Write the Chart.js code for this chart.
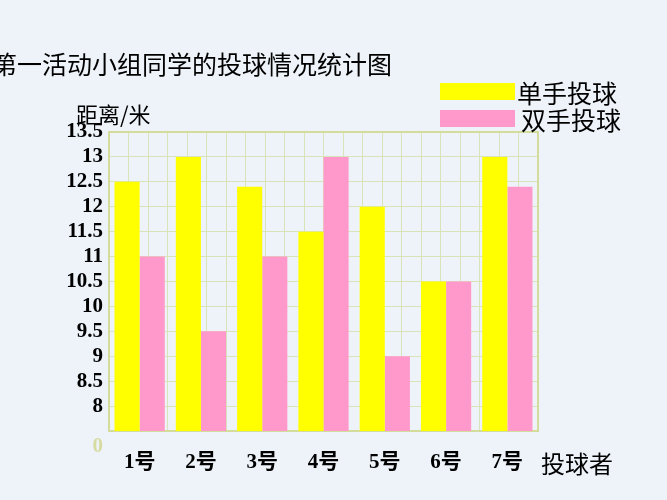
<!DOCTYPE html>
<html>
<head>
<meta charset="utf-8">
<script src="https://cdn.jsdelivr.net/npm/chart.js@4"></script>
<style>
  body { margin: 0; background: #eef3fa; }
  #wrap { position: relative; width: 667px; height: 500px; overflow: hidden; }
  canvas { position: absolute; left: 0; top: 0; }
  .t { position: absolute; font-family: "Noto Sans CJK SC", sans-serif; color: #000; white-space: nowrap; }
  .box { position: absolute; width: 75px; height: 17px; }
</style>
</head>
<body>
<div id="wrap">
  <canvas id="c" width="667" height="500"></canvas>
  <div class="t" style="left:-8px; top:45px; font-size:25px;">第一活动小组同学的投球情况统计图</div>
  <div class="t" style="left:76px; top:97px; font-size:22px;">距离/米</div>
  <div class="box" style="left:440px; top:83px; background:#ffff00;"></div>
  <div class="t" style="left:517px; top:74px; font-size:25px;">单手投球</div>
  <div class="box" style="left:440px; top:110px; background:#ff99cc;"></div>
  <div class="t" style="left:521px; top:101px; font-size:25px;">双手投球</div>
  <div class="t" style="left:541px; top:445px; font-size:24px;">投球者</div>
</div>
<script>
// 数据
const players = ['1号', '2号', '3号', '4号', '5号', '6号', '7号'];
const oneHand = [12.5, 13, 12.4, 11.5, 12, 10.5, 13];
const twoHands = [11, 9.5, 11, 13, 9, 10.5, 12.4];
const yTicks = [7.5, 8, 8.5, 9, 9.5, 10, 10.5, 11, 11.5, 12, 12.5, 13, 13.5];

const labelFont = 'bold 21px "Liberation Serif", "Noto Sans CJK SC"';
const gridColor = '#d9e3b8';

// 刻度文字自己画（用坐标轴换算位置）
const tickLabels = {
    id: 'tickLabels',
    afterDraw(chart) {
        const ctx = chart.ctx;
        const y = chart.scales.y, x = chart.scales.x;
        ctx.save();
        ctx.font = labelFont;
        ctx.textAlign = 'right';
        ctx.textBaseline = 'middle';
        yTicks.forEach(v => {
            ctx.fillStyle = v === 7.5 ? '#d6dca0' : '#000';
            ctx.fillText(v === 7.5 ? '0' : String(v), chart.chartArea.left - 6, y.getPixelForValue(v) + (v === 7.5 ? 16 : 0));
        });
        ctx.textAlign = 'center';
        ctx.fillStyle = '#000';
        players.forEach((p, i) => {
            ctx.fillText(p, x.getPixelForValue(i), chart.chartArea.bottom + 32);
        });
        ctx.restore();
    }
};

new Chart(document.getElementById('c'), {
    type: 'bar',
    data: {
        labels: players,
        datasets: [
            { label: '单手投球', data: oneHand, backgroundColor: '#ffff00' },
            { label: '双手投球', data: twoHands, backgroundColor: '#ff99cc' }
        ]
    },
    plugins: [tickLabels],
    options: {
        responsive: false,
        animation: false,
        layout: { padding: { left: 109, right: 129, top: 132, bottom: 69 } },
        plugins: { legend: { display: false }, tooltip: { enabled: false } },
        datasets: { bar: { categoryPercentage: 0.82, barPercentage: 1 } },
        scales: {
            x: {
                afterFit: s => { s.height = 0; },
                grid: { display: false },
                border: { color: '#d4dc9c', width: 2 },
                ticks: { display: false }
            },
            x2: {
                type: 'linear', position: 'top', min: 0, max: 21,
                afterFit: s => { s.height = 0; },
                ticks: { display: false, stepSize: 1, autoSkip: false },
                grid: { color: gridColor, drawTicks: false },
                border: { color: '#d4dc9c', width: 2 }
            },
            y: {
                min: 7.5, max: 13.5,
                afterFit: s => { s.width = 0; },
                afterBuildTicks: s => { s.ticks = yTicks.map(v => ({ value: v })); },
                grid: { color: gridColor, drawTicks: false },
                border: { color: '#d4dc9c', width: 2 },
                ticks: { display: false, autoSkip: false }
            },
            y2: {
                position: 'right', min: 7.5, max: 13.5,
                afterFit: s => { s.width = 0; },
                ticks: { display: false },
                grid: { display: false },
                border: { color: '#d4dc9c', width: 2 }
            }
        }
    }
});
</script>
</body>
</html>
